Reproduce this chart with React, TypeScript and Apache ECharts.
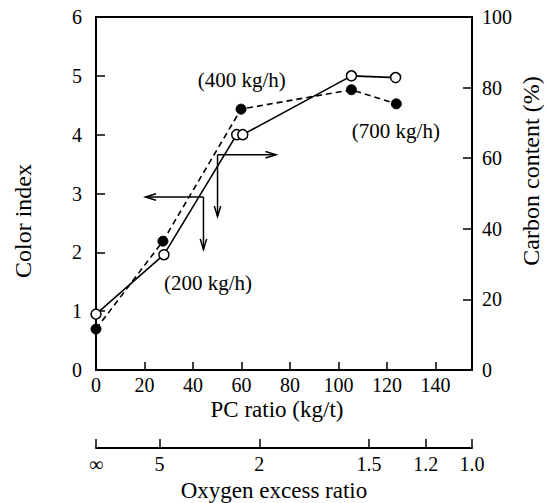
import React, { useEffect, useRef } from "react";
import * as echarts from "echarts";

// ---- data ----
const pcRatioTicks = [0, 20, 40, 60, 80, 100, 120, 140];
const openPC = [0, 28, 58, 60.5, 105.3, 123.5];
const openColorIndex = [0.95, 1.96, 4.0, 4.0, 5.0, 4.97];
const filledPC = [0, 27.6, 59.8, 105.3, 123.8];
const filledCarbon = [11.6, 36.5, 73.9, 79.4, 75.4];
const oxygenLabels = ["∞", "5", "2", "1.5", "1.2", "1.0"];
const oxygenAtPC = [0, 26.2, 67.3, 112.5, 135.9, 155];
// arrows: start/end in (PC ratio, color index)
const arrowStartX = [44.3, 44.3, 50.1, 50.1];
const arrowStartY = [2.94, 2.94, 3.66, 3.66];
const arrowEndX = [20.4, 44.3, 74.2, 50.1];
const arrowEndY = [2.94, 2.05, 3.66, 2.61];
const noteTexts = ["(200 kg/h)", "(400 kg/h)", "(700 kg/h)"];
const notePC = [46.2, 60.1, 123.6];
const noteColorIndex = [1.48, 4.93, 4.07];

const FONT = "'Liberation Serif', 'Times New Roman', 'DejaVu Serif', serif";

export default function App() {
  const ref = useRef<HTMLDivElement>(null);
  useEffect(() => {
    if (!ref.current) return;
    const chart = echarts.init(ref.current, undefined, { renderer: "svg" });
    const axisLineStyle = { color: "#000", width: 2 };
    const labelStyle = { color: "#000", fontSize: 20, fontFamily: FONT };
    const option: any = {
      animation: false,
      backgroundColor: "#fff",
      textStyle: { fontFamily: FONT },
      grid: [
        { left: 96, top: 17, width: 376, height: 353, show: true, borderColor: "#000", borderWidth: 2 },
        { left: 96, top: 447, width: 376, height: 1 },
      ],
      xAxis: [
        {
          type: "value",
          gridIndex: 0,
          min: 0,
          max: 155,
          interval: 20,
          axisLine: { lineStyle: axisLineStyle },
          axisTick: { inside: true, length: 8, lineStyle: { color: "#000", width: 1.5 }, customValues: pcRatioTicks },
          axisLabel: {
            ...labelStyle,
            margin: 5,
            customValues: pcRatioTicks,
            formatter: (v: number) => (v > 140 ? "" : String(v)),
          },
          splitLine: { show: false },
        },
        {
          type: "value",
          gridIndex: 1,
          min: 0,
          max: 155,
          position: "bottom",
          axisLine: { lineStyle: axisLineStyle },
          axisTick: { inside: true, length: 9, lineStyle: { color: "#000", width: 1.5 }, customValues: oxygenAtPC },
          axisLabel: {
            ...labelStyle,
            margin: 6,
            customValues: oxygenAtPC,
            showMinLabel: true,
            showMaxLabel: true,
            formatter: (v: number) => {
              const i = oxygenAtPC.findIndex((p) => Math.abs(p - v) < 0.01);
              return i >= 0 ? oxygenLabels[i] : "";
            },
          },
          splitLine: { show: false },
        },
      ],
      yAxis: [
        {
          type: "value",
          gridIndex: 0,
          position: "left",
          min: 0,
          max: 6,
          interval: 1,
          axisLine: { lineStyle: axisLineStyle },
          axisTick: { inside: true, length: 9, lineStyle: { color: "#000", width: 1.5 } },
          axisLabel: { ...labelStyle, margin: 14 },
          splitLine: { show: false },
        },
        {
          type: "value",
          gridIndex: 0,
          position: "right",
          min: 0,
          max: 100,
          interval: 20,
          axisLine: { lineStyle: axisLineStyle },
          axisTick: { inside: true, length: 9, lineStyle: { color: "#000", width: 1.5 } },
          axisLabel: { ...labelStyle, margin: 10 },
          splitLine: { show: false },
        },
        { type: "value", gridIndex: 1, show: false, min: 0, max: 1 },
      ],
      graphic: [
        {
          type: "text",
          x: 23,
          y: 221,
          rotation: Math.PI / 2,
          style: { text: "Color index", fontSize: 24, fontFamily: FONT, fill: "#000", align: "center", verticalAlign: "middle" },
        },
        {
          type: "text",
          x: 531,
          y: 171,
          rotation: Math.PI / 2,
          style: { text: "Carbon content (%)", fontSize: 24, fontFamily: FONT, fill: "#000", align: "center", verticalAlign: "middle" },
        },
        {
          type: "text",
          x: 277,
          y: 409,
          style: { text: "PC ratio (kg/t)", fontSize: 23, fontFamily: FONT, fill: "#000", align: "center", verticalAlign: "middle" },
        },
        {
          type: "text",
          x: 274,
          y: 490,
          style: { text: "Oxygen excess ratio", fontSize: 23, fontFamily: FONT, fill: "#000", align: "center", verticalAlign: "middle" },
        },
      ],
      series: [
        {
          type: "custom",
          xAxisIndex: 0,
          yAxisIndex: 0,
          coordinateSystem: "cartesian2d",
          encode: { x: [0, 2], y: [1, 3] },
          silent: true,
          z: 1,
          data: arrowStartX.map((x, i) => [x, arrowStartY[i], arrowEndX[i], arrowEndY[i]]),
          renderItem: (params: any, api: any) => {
            const p1 = api.coord([api.value(0), api.value(1)]);
            const p2 = api.coord([api.value(2), api.value(3)]);
            const ang = Math.atan2(p2[1] - p1[1], p2[0] - p1[0]);
            const L = 11;
            const a = 0.3;
            const b1 = [p2[0] - L * Math.cos(ang - a), p2[1] - L * Math.sin(ang - a)];
            const b2 = [p2[0] - L * Math.cos(ang + a), p2[1] - L * Math.sin(ang + a)];
            const st = { stroke: "#000", lineWidth: 1.5, fill: "none" };
            return {
              type: "group",
              children: [
                { type: "line", shape: { x1: p1[0], y1: p1[1], x2: p2[0], y2: p2[1] }, style: st },
                { type: "polyline", shape: { points: [b1, p2, b2] }, style: st },
              ],
            };
          },
        },
        {
          type: "line",
          name: "Color index",
          xAxisIndex: 0,
          yAxisIndex: 0,
          data: openPC.map((x, i) => [x, openColorIndex[i]]),
          symbol: "circle",
          symbolSize: 10,
          lineStyle: { color: "#000", width: 1.6 },
          itemStyle: { color: "#fff", borderColor: "#000", borderWidth: 1.5 },
          z: 3,
        },
        {
          type: "line",
          name: "Carbon content",
          xAxisIndex: 0,
          yAxisIndex: 1,
          data: filledPC.map((x, i) => [x, filledCarbon[i]]),
          symbol: "circle",
          symbolSize: 10,
          lineStyle: { color: "#000", width: 1.6, type: [6, 4] },
          itemStyle: { color: "#000", borderColor: "#000", borderWidth: 1 },
          z: 4,
        },
        {
          type: "custom",
          xAxisIndex: 0,
          yAxisIndex: 0,
          coordinateSystem: "cartesian2d",
          silent: true,
          z: 5,
          data: notePC.map((x, i) => [x, noteColorIndex[i], i]),
          renderItem: (params: any, api: any) => {
            const p = api.coord([api.value(0), api.value(1)]);
            return {
              type: "text",
              x: p[0],
              y: p[1],
              style: {
                text: noteTexts[api.value(2)],
                fontSize: 21,
                fontFamily: FONT,
                fill: "#000",
                align: "center",
                verticalAlign: "middle",
              },
            };
          },
        },
      ],
    };
    chart.setOption(option);
    return () => chart.dispose();
  }, []);
  return (
    <div
      ref={ref}
      style={{ position: "fixed", left: 0, top: 0, width: 547, height: 503, background: "#fff" }}
    />
  );
}
